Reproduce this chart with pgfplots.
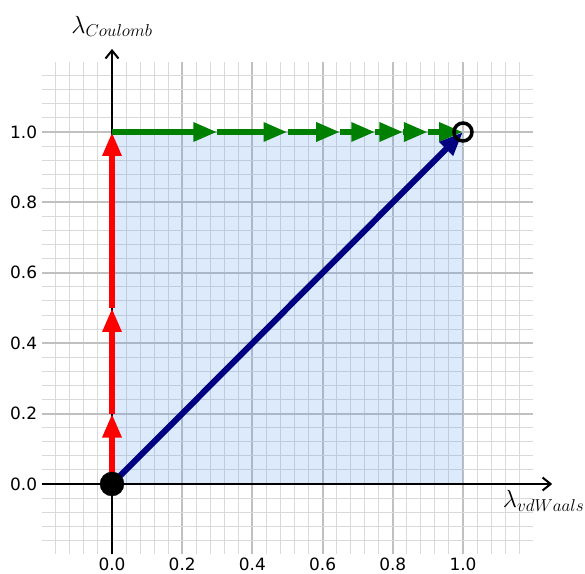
\documentclass[border=0pt]{standalone}
\usepackage{fontspec}
\setmainfont{DejaVu Sans}
\usepackage{pgfplots}
\pgfplotsset{compat=1.18}
\usetikzlibrary{arrows.meta}

\definecolor{majgrid}{RGB}{192,192,192}
\definecolor{mingrid}{RGB}{217,217,217}
\definecolor{boxblue}{RGB}{80,150,240}
\definecolor{pathred}{RGB}{255,0,0}
\definecolor{pathgreen}{RGB}{0,128,0}
\definecolor{pathnavy}{RGB}{0,0,128}

\tikzset{
  fathead/.style={-{Triangle[length=24bp,width=18bp]}, line width=6bp},
  axhead/.style={-{Straight Barb[length=8bp,width=13bp,line width=2bp]}, line width=2bp, black},
}

\begin{document}
\begin{tikzpicture}
\begin{axis}[
    scale only axis,
    width=491.4bp, height=492.8bp,
    xmin=-0.2, xmax=1.2,
    ymin=-0.2, ymax=1.2,
    clip=false,
    axis line style={draw=none},
    tick style={draw=none},
    major tick length=0pt, minor tick length=0pt,
    xtick={0,0.2,0.4,0.6,0.8,1},
    ytick={0,0.2,0.4,0.6,0.8,1},
    minor xtick={-0.16,-0.12,...,1.17},
    minor ytick={-0.16,-0.12,...,1.17},
    grid=both,
    major grid style={majgrid, line width=2bp},
    minor grid style={mingrid, line width=1bp},
    /pgf/number format/assume math mode=true,
    /pgf/number format/.cd, fixed, fixed zerofill, precision=1, /pgfplots/.cd,
    ticklabel style={font=\fontsize{17}{20}\selectfont},
    xticklabel style={inner sep=3bp},
    yticklabel style={inner sep=4.5bp},
]
  \coordinate (bl) at (rel axis cs:0,0);

  % shaded region
  \addplot[draw=none, fill=boxblue, fill opacity=0.2] coordinates {(0,0) (1,0) (1,1) (0,1)} -- cycle;

  % axes with arrows
  \addplot[axhead] coordinates {(-0.2,0) (1.254,0)};
  \addplot[axhead] coordinates {(0,-0.2) (0,1.236)};

  % Coulomb first
  \addplot[fathead, pathred] coordinates {(0,0) (0,0.2)};
  \addplot[fathead, pathred] coordinates {(0,0.2) (0,0.5)};
  \addplot[fathead, pathred] coordinates {(0,0.5) (0,1)};

  % then vdWaals
  \addplot[fathead, pathgreen] coordinates {(0,1) (0.3,1)};
  \addplot[fathead, pathgreen] coordinates {(0.3,1) (0.5,1)};
  \addplot[fathead, pathgreen] coordinates {(0.5,1) (0.65,1)};
  \addplot[fathead, pathgreen] coordinates {(0.65,1) (0.75,1)};
  \addplot[fathead, pathgreen] coordinates {(0.75,1) (0.83,1)};
  \addplot[fathead, pathgreen] coordinates {(0.83,1) (0.9,1)};
  \addplot[fathead, pathgreen] coordinates {(0.9,1) (1,1)};

  % simultaneous
  \addplot[fathead, pathnavy] coordinates {(0,0) (1,1)};

  % start and end states
  \addplot[only marks, mark=*, mark size=12bp, black, mark options={fill=black}] coordinates {(0,0)};
  \addplot[only marks, mark=o, mark size=9bp, black, mark options={line width=3.5bp}] coordinates {(1,1)};

  \node[anchor=base, inner sep=0pt] at (axis cs:0,1.281) {\fontsize{25}{30}\selectfont$\lambda_{Coulomb}$};
  \node[anchor=base west, inner sep=0pt] at (axis cs:1.113,-0.068) {\fontsize{25}{30}\selectfont$\lambda_{vdWaals}$};
\end{axis}
\pgfresetboundingbox
\path ([shift={(-41.8bp,-19.6bp)}]bl) rectangle ++(585bp,574bp);
\end{tikzpicture}
\end{document}
